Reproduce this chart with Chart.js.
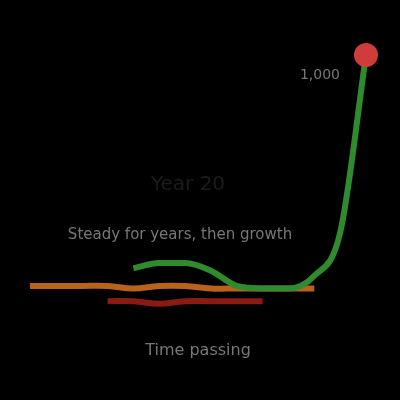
<!DOCTYPE html>
<html>
<head>
<meta charset="utf-8">
<script src="https://cdn.jsdelivr.net/npm/chart.js@4.4.1/dist/chart.umd.min.js"></script>
<style>
    html, body { margin: 0; padding: 0; background: #000; }
    #wrap { width: 400px; height: 400px; }
</style>
</head>
<body>
<div id="wrap"><canvas id="growthChart"></canvas></div>
<script>
// Data
var labels = ['1', '2', '3', '4', '5', '6', '7', '8', '9', '10', '11', '12', '13', '14'];
var greenValues  = [null, null, null, null, 16, 18, 18, 15, 9, 8, 8, 13, 30, 100];
var orangeValues = [9, 9, 9, 9, 8, 9, 9, 8, 8, 8, 8, 8, null, null];
var redValues    = [null, null, null, 3, 3, 2, 3, 3, 3, 3, null, null, null, null];
var peakLabel = '1,000';
var topNote = 'Year 20';
var midNote = 'Steady for years, then growth';
var xTitle = 'Time passing';

(function () {
    var canvas = document.getElementById('growthChart');
    if (!canvas) return;
    var ctx = canvas.getContext('2d');

    // notes in the middle and the label next to the last point
    var notesPlugin = {
        id: 'notes',
        afterDatasetsDraw: function (chart) {
            var c = chart.ctx;
            var meta = chart.getDatasetMeta(0);
            var last = meta.data[meta.data.length - 1];
            c.save();
            c.textBaseline = 'middle';
            c.fillStyle = '#777';
            c.font = '14px "DejaVu Sans", sans-serif';
            c.textAlign = 'right';
            c.fillText(peakLabel, last.x - 26, last.y + 20);
            c.textAlign = 'center';
            c.font = '15px "DejaVu Sans", sans-serif';
            c.fillText(midNote, 180, 235);
            c.fillStyle = '#1c1c1c';
            c.font = '20px "DejaVu Sans", sans-serif';
            c.fillText(topNote, 188, 185);
            c.restore();
        }
    };

    new Chart(ctx, {
        type: 'line',
        data: {
            labels: labels,
            datasets: [{
                data: greenValues,
                borderColor: '#2e8b2e',
                borderWidth: 6,
                cubicInterpolationMode: 'monotone',
                clip: false,
                pointRadius: function (c) { return c.dataIndex === greenValues.length - 1 ? 12 : 0; },
                pointBackgroundColor: '#d03c3c',
                pointBorderWidth: 0
            }, {
                data: orangeValues,
                borderColor: '#b8621a',
                borderWidth: 6,
                tension: 0.4,
                pointRadius: 0
            }, {
                data: redValues,
                borderColor: '#8a1a14',
                borderWidth: 6,
                tension: 0.4,
                pointRadius: 0
            }]
        },
        options: {
            responsive: true,
            maintainAspectRatio: false,
            animation: false,
            layout: { padding: { left: 30, right: 34, top: 55, bottom: 36 } },
            plugins: {
                legend: { display: false },
                tooltip: { enabled: false }
            },
            scales: {
                x: {
                    display: true,
                    grid: { display: false },
                    border: { display: false },
                    ticks: { display: false },
                    title: {
                        display: true,
                        text: xTitle,
                        color: '#777',
                        font: { size: 16, family: 'DejaVu Sans' },
                        padding: { top: 24 }
                    }
                },
                y: {
                    display: false,
                    min: 0,
                    max: 100
                }
            }
        },
        plugins: [notesPlugin]
    });
})();
</script>
</body>
</html>
